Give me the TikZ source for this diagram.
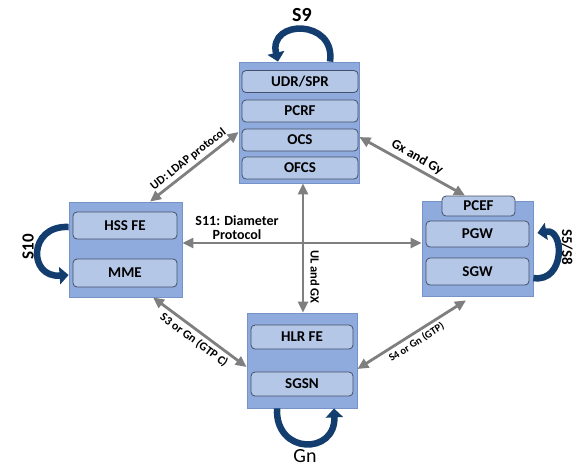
\documentclass[tikz,border=0pt]{standalone}
\usepackage{fontspec}
\setmainfont{Carlito}
\usepackage{xcolor}
\usetikzlibrary{arrows.meta,positioning,calc}

\definecolor{grpfill}{HTML}{8FAADC}
\definecolor{grpline}{HTML}{7592C9}
\definecolor{unitfill}{HTML}{B4C7E7}
\definecolor{unitline}{HTML}{44506A}
\definecolor{navy}{HTML}{123D6E}
\definecolor{linkgray}{HTML}{7F7F7F}

\begin{document}
\begin{tikzpicture}[x=1pt,y=-1pt,<->,>={Triangle[length=11pt,width=10pt]},
			line width=2.8pt]
			\tikzstyle{every node}=[font=\bfseries,inner sep=0pt]
			\tikzstyle{group}=[draw=grpline,fill=grpfill,line width=0.8pt,rectangle]
			\tikzstyle{unit}=[draw=unitline,fill=unitfill,line width=0.8pt,rectangle,rounded corners=4pt,
			font=\fontsize{15}{18}\selectfont\bfseries]
			\tikzstyle{link}=[draw=linkgray]
			\tikzstyle{loopy}=[draw=navy,line width=6.5pt,-{Triangle[length=9pt,width=17pt]}]
			\tikzstyle{small}=[font=\fontsize{12}{14}\selectfont\bfseries]
			
			\useasboundingbox (0,0) rectangle (577,466);
			
			% groups
			\node[group, minimum width=120pt, minimum height=121pt] (B1) at (299,122.5) {};
			
			\node[group, minimum width=113pt, minimum height=95pt] (B2) at (125.5,249.5) {};
			
			\node[group, minimum width=111pt, minimum height=95pt] (B3) at (477.5,248.5) {};
			
			\node[group, minimum width=110pt, minimum height=95pt] (B4) at (302,360.5) {};
			
			% units
			\node[unit, minimum width=116pt, minimum height=22pt] (UDR) at (300,81.5) {UDR/SPR};
			
			\node[unit, minimum width=116pt, minimum height=22pt] (PCRF) at (300,111) {PCRF};
			
			\node[unit, minimum width=116pt, minimum height=22pt] (OCS) at (300,140) {OCS};
			
			\node[unit, minimum width=116pt, minimum height=22pt] (OFCS) at (300,168) {OFCS};
			
			\node[unit, minimum width=104pt, minimum height=27pt] (HSS) at (125,225.5) {HSS FE};
			
			\node[unit, minimum width=104pt, minimum height=28pt] (MME) at (125,273) {MME};
			
			\node[unit, minimum width=73pt, minimum height=20pt] (PCEF) at (478.5,206) {PCEF};
			
			\node[unit, minimum width=103pt, minimum height=26pt] (PGW) at (477.5,234) {PGW};
			
			\node[unit, minimum width=103pt, minimum height=27pt] (SGW) at (477.5,271.5) {SGW};
			
			\node[unit, minimum width=102pt, minimum height=24pt] (HLR) at (302,337) {HLR FE};
			
			\node[unit, minimum width=102pt, minimum height=24pt] (SGSN) at (302,384) {SGSN};
			
			\coordinate (J) at (303,243);
			
			% links
			\path
			
			([xshift=24.5pt]B2.north) edge[link] node[small, sloped, above=3pt] {UD: LDAP protocol} ([yshift=-9.5pt]B1.west)
			
			([yshift=-14.5pt]B1.east) edge[link] node[sloped, above=3pt, font=\fontsize{13.5}{16}\selectfont\bfseries] {Gx and Gy} ([xshift=-13.5pt]PCEF.north)
			
			(B2.east |- J) edge[link] (B3.west |- J)
			
			(J |- B1.south) edge[link] (J |- B4.north)
			
			([xshift=27.5pt]B2.south) edge[link] node[small, sloped, below=3pt] {S3 or Gn (GTP C)} ([yshift=-6.5pt]B4.west)
			
			([yshift=-8.5pt]B4.east) edge[link] node[sloped, below=3pt, font=\fontsize{10.5}{12}\selectfont\bfseries] {S4 or Gn (GTP)} ([xshift=-11.5pt,yshift=-4pt]B3.south);
			
			\node[align=center, font=\fontsize{14}{14}\selectfont\bfseries] (S11) at (237,228) {S11: Diameter\\Protocol};
			
			\node[rotate=-90, font=\fontsize{12.5}{14}\selectfont\bfseries] (UL) at (315,277) {UL and GX};
			
			% loops
			\draw[loopy] ([xshift=31pt]B1.north) .. controls (336,19) and (268,19) .. ([xshift=-21pt]B1.north);
			
			\draw[loopy] ([yshift=22.5pt]B2.west) .. controls (28,225) and (28,278) .. ([yshift=-25.5pt]B2.west);
			
			\draw[loopy] ([yshift=-29.5pt]B3.east) .. controls (565,283) and (565,228) .. ([xshift=4pt,yshift=15.5pt]B3.east);
			
			\draw[loopy] ([xshift=-25pt]B4.south) .. controls (275,455) and (336,455) .. ([xshift=32pt]B4.south);
			
			\node[font=\fontsize{20}{20}\selectfont\bfseries] (S9) at (302,15) {S9};
			
			\node[rotate=90, font=\fontsize{17}{17}\selectfont\bfseries] (S10) at (28,247) {S10};
			
			\node[rotate=-90, font=\fontsize{15}{15}\selectfont\bfseries] (S5) at (567,247) {S5/S8};
			
			\node[font=\fontsize{20}{20}\selectfont] (Gn) at (305,456) {Gn};
\end{tikzpicture}
\end{document}
